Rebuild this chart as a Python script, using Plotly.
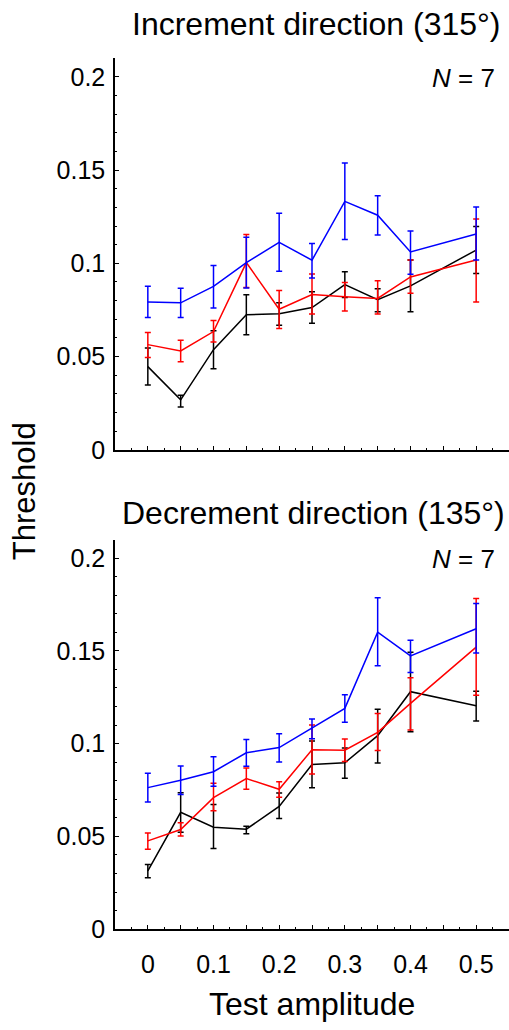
import plotly.graph_objects as go

x_amp = [0, 0.05, 0.1, 0.15, 0.2, 0.25, 0.3, 0.35, 0.4, 0.5]

# Increment direction (315°)
blue_inc = [0.0793, 0.0788, 0.0876, 0.1004, 0.1112, 0.1017, 0.1332, 0.1258, 0.1061, 0.1157]
blue_inc_hi = [0.0877, 0.0867, 0.0988, 0.1140, 0.1268, 0.1106, 0.1538, 0.1362, 0.1173, 0.1302]
blue_inc_lo = [0.0710, 0.0710, 0.0761, 0.0868, 0.0957, 0.0921, 0.1128, 0.1152, 0.0941, 0.1018]

red_inc = [0.0564, 0.0530, 0.0634, 0.1004, 0.0754, 0.0833, 0.0821, 0.0812, 0.0927, 0.1018]
red_inc_hi = [0.0629, 0.0587, 0.0694, 0.1154, 0.0854, 0.0943, 0.0897, 0.0906, 0.1018, 0.1238]
red_inc_lo = [0.0495, 0.0472, 0.0578, 0.0870, 0.0650, 0.0728, 0.0745, 0.0728, 0.0840, 0.0793]

black_inc = [0.0446, 0.0268, 0.0537, 0.0724, 0.0729, 0.0763, 0.0886, 0.0805, 0.0879, 0.1071]
black_inc_hi = [0.0546, 0.0292, 0.0638, 0.0831, 0.0789, 0.0847, 0.0955, 0.0863, 0.1018, 0.1198]
black_inc_lo = [0.0347, 0.0229, 0.0435, 0.0617, 0.0668, 0.0678, 0.0817, 0.0740, 0.0740, 0.0946]

# Decrement direction (135°)
blue_dec = [0.0763, 0.0803, 0.0849, 0.0951, 0.0979, 0.1083, 0.1190, 0.1601, 0.1473, 0.1619]
blue_dec_hi = [0.0840, 0.0880, 0.0929, 0.1023, 0.1053, 0.1133, 0.1263, 0.1787, 0.1557, 0.1755]
blue_dec_lo = [0.0685, 0.0726, 0.0770, 0.0878, 0.0901, 0.1027, 0.1115, 0.1420, 0.1383, 0.1488]

red_dec = [0.0476, 0.0537, 0.0709, 0.0812, 0.0754, 0.0967, 0.0965, 0.1061, 0.1217, 0.1520]
red_dec_hi = [0.0518, 0.0574, 0.0786, 0.0869, 0.0795, 0.1100, 0.1025, 0.1162, 0.1355, 0.1782]
red_dec_lo = [0.0431, 0.0502, 0.0638, 0.0754, 0.0711, 0.0837, 0.0904, 0.0963, 0.1073, 0.1261]

black_dec = [0.0314, 0.0630, 0.0550, 0.0539, 0.0662, 0.0888, 0.0897, 0.1043, 0.1280, 0.1204]
black_dec_hi = [0.0349, 0.0736, 0.0672, 0.0555, 0.0734, 0.1014, 0.0977, 0.1186, 0.1493, 0.1282]
black_dec_lo = [0.0277, 0.0523, 0.0435, 0.0514, 0.0596, 0.0763, 0.0814, 0.0896, 0.1064, 0.1122]

x_tickvals = [0, 0.05, 0.1, 0.15, 0.2, 0.25, 0.3, 0.35, 0.4, 0.45, 0.5]
x_ticktext = ["0", "", "0.1", "", "0.2", "", "0.3", "", "0.4", "", "0.5"]
y_tickvals = [0, 0.05, 0.1, 0.15, 0.2]
y_ticktext = ["0", "0.05", "0.1", "0.15", "0.2"]

FONT = "Liberation Sans, Arial, Helvetica, sans-serif"

fig = go.Figure()

def add_series(y, hi, lo, color, xa, ya):
    fig.add_trace(go.Scatter(
        x=x_amp, y=y, mode="lines", xaxis=xa, yaxis=ya,
        line=dict(color=color, width=1.5),
        error_y=dict(type="data", symmetric=False,
                     array=[h - v for h, v in zip(hi, y)],
                     arrayminus=[v - l for v, l in zip(y, lo)],
                     color=color, thickness=1.5, width=3),
        showlegend=False, hoverinfo="skip"))

for y, hi, lo, c in [(black_inc, black_inc_hi, black_inc_lo, "#000000"),
                     (red_inc, red_inc_hi, red_inc_lo, "#ff0000"),
                     (blue_inc, blue_inc_hi, blue_inc_lo, "#0000ff")]:
    add_series(y, hi, lo, c, "x", "y")
for y, hi, lo, c in [(black_dec, black_dec_hi, black_dec_lo, "#000000"),
                     (red_dec, red_dec_hi, red_dec_lo, "#ff0000"),
                     (blue_dec, blue_dec_hi, blue_dec_lo, "#0000ff")]:
    add_series(y, hi, lo, c, "x2", "y2")

H = 1030.0
def py(px):
    return 1 - px / H

xcommon = dict(range=[-0.05, 0.55], showgrid=False, zeroline=False,
               showline=True, linecolor="black", linewidth=1.5,
               ticks="inside", ticklen=4, tickwidth=1.2, tickcolor="black",
               tickvals=x_tickvals, ticktext=x_ticktext,
               minor=dict(tickvals=[-0.025, 0.025, 0.075, 0.125, 0.175, 0.225, 0.275,
                                    0.325, 0.375, 0.425, 0.475, 0.525],
                          ticks="inside", ticklen=2, tickwidth=1, tickcolor="black"),
               tickfont=dict(family=FONT, size=25, color="black"),
               ticklabelstandoff=12)
ycommon = dict(range=[0, 0.21], showgrid=False, zeroline=False,
               showline=True, linecolor="black", linewidth=1.5,
               ticks="inside", ticklen=4, tickwidth=1.2, tickcolor="black",
               tickvals=y_tickvals, ticktext=y_ticktext,
               minor=dict(dtick=0.01, tick0=0, ticks="inside", ticklen=2,
                          tickwidth=1, tickcolor="black"),
               tickfont=dict(family=FONT, size=25, color="black"),
               ticklabelstandoff=3)

fig.update_layout(
    width=509, height=1030,
    margin=dict(l=115, r=0, t=0, b=0),
    paper_bgcolor="white", plot_bgcolor="white",
    xaxis=dict(**xcommon, domain=[0, 1], anchor="y", showticklabels=False),
    yaxis=dict(**ycommon, domain=[py(456), py(59)], anchor="x"),
    xaxis2=dict(**xcommon, domain=[0, 1], anchor="y2"),
    yaxis2=dict(**ycommon, domain=[py(942), py(547)], anchor="x2"),
)

def px_x(p):
    return (p - 115) / 394.0

ann = [
    dict(text="Increment direction (315°)", x=px_x(316), y=py(24), size=32),
    dict(text="Decrement direction (135°)", x=px_x(313), y=py(520), size=32),
    dict(text="Test amplitude", x=px_x(312), y=py(1018), size=32),
]
for a in ann:
    fig.add_annotation(text=a["text"], x=a["x"], y=a["y"], xref="paper", yref="paper",
                       xanchor="center", yanchor="middle", showarrow=False,
                       font=dict(family=FONT, size=a["size"], color="black"))
fig.add_annotation(text="Threshold", x=px_x(24), y=py(498), xref="paper", yref="paper",
                   xanchor="center", yanchor="middle", showarrow=False, textangle=-90,
                   font=dict(family=FONT, size=31, color="black"))
for yb in [79, 567]:
    fig.add_annotation(text="<i>N</i> = 7", x=px_x(497), y=py(yb), xref="paper", yref="paper",
                       xanchor="right", yanchor="middle", showarrow=False,
                       font=dict(family=FONT, size=26, color="black"))

fig.write_html("out.html")
